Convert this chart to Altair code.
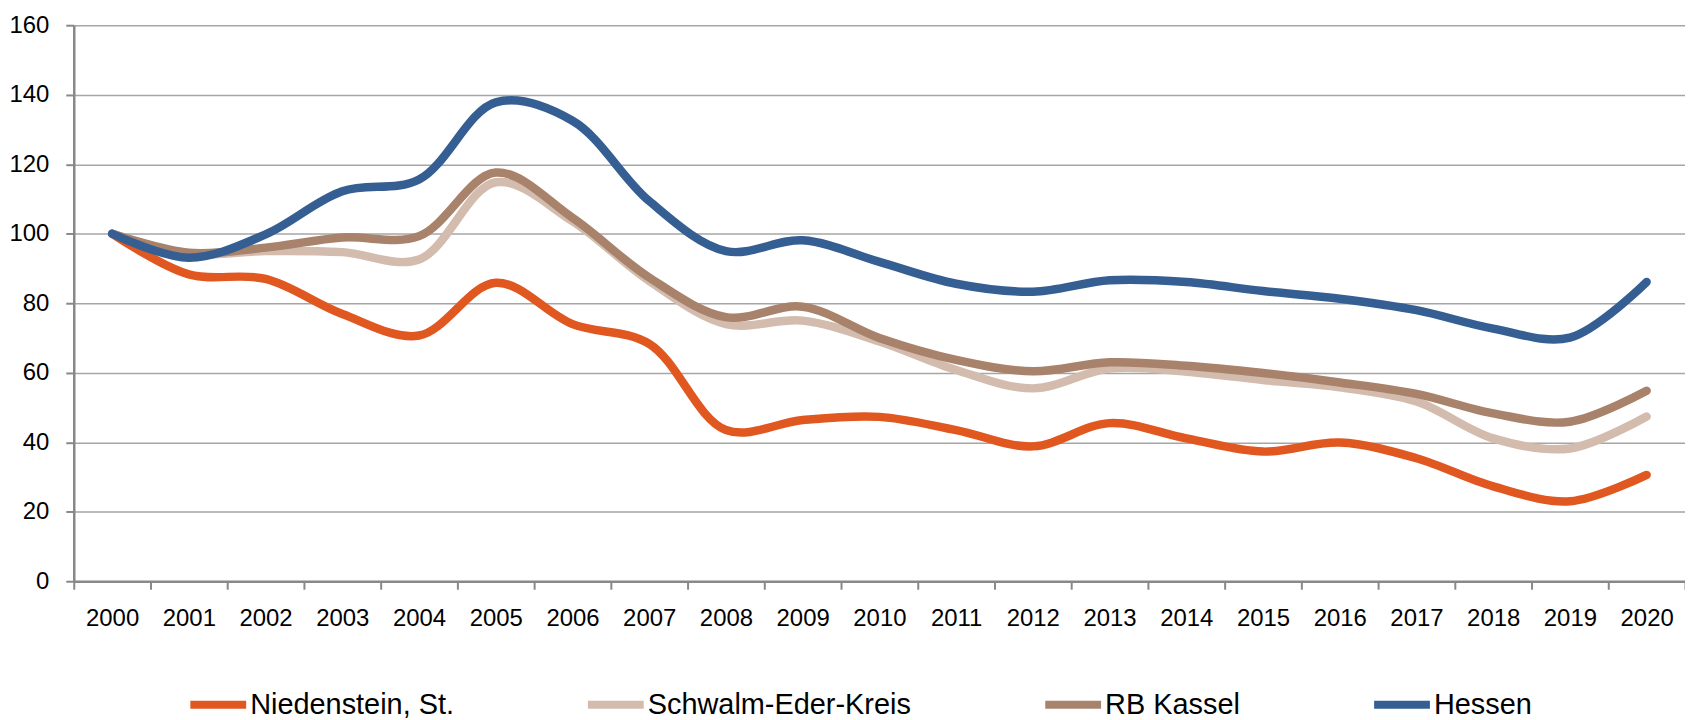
import altair as alt
import pandas as pd

years = [str(y) for y in range(2000, 2021)]
series_names = ["Niedenstein, St.", "Schwalm-Eder-Kreis", "RB Kassel", "Hessen"]
series_colors = ["#E0571F", "#D3BCAE", "#A8826A", "#355F93"]

niedenstein = [100, 88.3, 87.0, 76.9, 70.7, 85.9, 74.0, 68.3, 43.5, 46.4, 47.3,
               43.5, 38.8, 45.5, 41.1, 37.3, 39.9, 35.4, 27.3, 23.0, 30.6]
schwalm = [100, 94.3, 95.0, 94.7, 92.6, 114.8, 103.6, 86.4, 74.0, 75.0, 69.0,
           60.8, 55.5, 61.2, 60.3, 57.9, 55.8, 51.7, 41.1, 38.2, 47.4]
kassel = [100, 94.5, 96.0, 98.9, 99.3, 117.6, 104.6, 87.4, 76.0, 79.0, 70.0,
          63.7, 60.4, 63.0, 62.0, 59.9, 57.2, 53.9, 48.3, 45.9, 54.8]
hessen = [100, 93.1, 99.8, 112.2, 115.6, 137.8, 132.5, 109.4, 95.0, 98.1, 91.9,
          85.6, 83.3, 86.6, 86.1, 83.5, 81.3, 78.0, 72.7, 70.1, 86.1]

rows = []
for order, (name, vals) in enumerate(zip(series_names, [niedenstein, schwalm, kassel, hessen])):
    for y, v in zip(years, vals):
        rows.append({"Jahr": y, "Wert": v, "Region": name, "o": order})
df = pd.DataFrame(rows)

FONT = "Liberation Sans Narrow, Arial Narrow, Liberation Sans, Arial"

chart = alt.Chart(df).mark_line(
    interpolate="catmull-rom", strokeWidth=8.5, strokeCap="round", strokeJoin="round"
).encode(
    x=alt.X("Jahr:N", bandPosition=0.5, sort=years,
            scale=alt.Scale(type="band", paddingInner=0, paddingOuter=0),
            axis=alt.Axis(title=None, labelAngle=0, tickBand="extent", grid=False,
                          tickSize=8, labelPadding=17)),
    y=alt.Y("Wert:Q", scale=alt.Scale(domain=[0, 160], nice=False),
            axis=alt.Axis(title=None, values=list(range(0, 161, 20)), tickSize=8,
                          labelPadding=17, grid=True)),
    color=alt.Color("Region:N", sort=series_names,
                    scale=alt.Scale(domain=series_names, range=series_colors),
                    legend=alt.Legend(title=None, orient="none", legendX=113, legendY=650,
                                      direction="horizontal", symbolType="stroke",
                                      symbolSize=3136, symbolStrokeWidth=8,
                                      labelFontSize=29, labelFont=FONT, labelColor="black",
                                      labelLimit=500, columnPadding=118, labelOffset=0)),
    order=alt.Order("o:Q"),
).properties(
    width=1617, height=558,
    autosize=alt.AutoSizeParams(type="none"),
    padding={"left": 66, "top": 16, "right": 0, "bottom": 140},
).configure_view(stroke=None).configure_axis(
    domainColor="#888888", domainWidth=2.5, tickColor="#888888", tickWidth=2,
    gridColor="#A6A6A6", gridWidth=1.5, labelFont=FONT, labelFontSize=24,
    labelColor="black"
)

chart.save("out.html", embed_options={"renderer": "svg", "actions": False})
